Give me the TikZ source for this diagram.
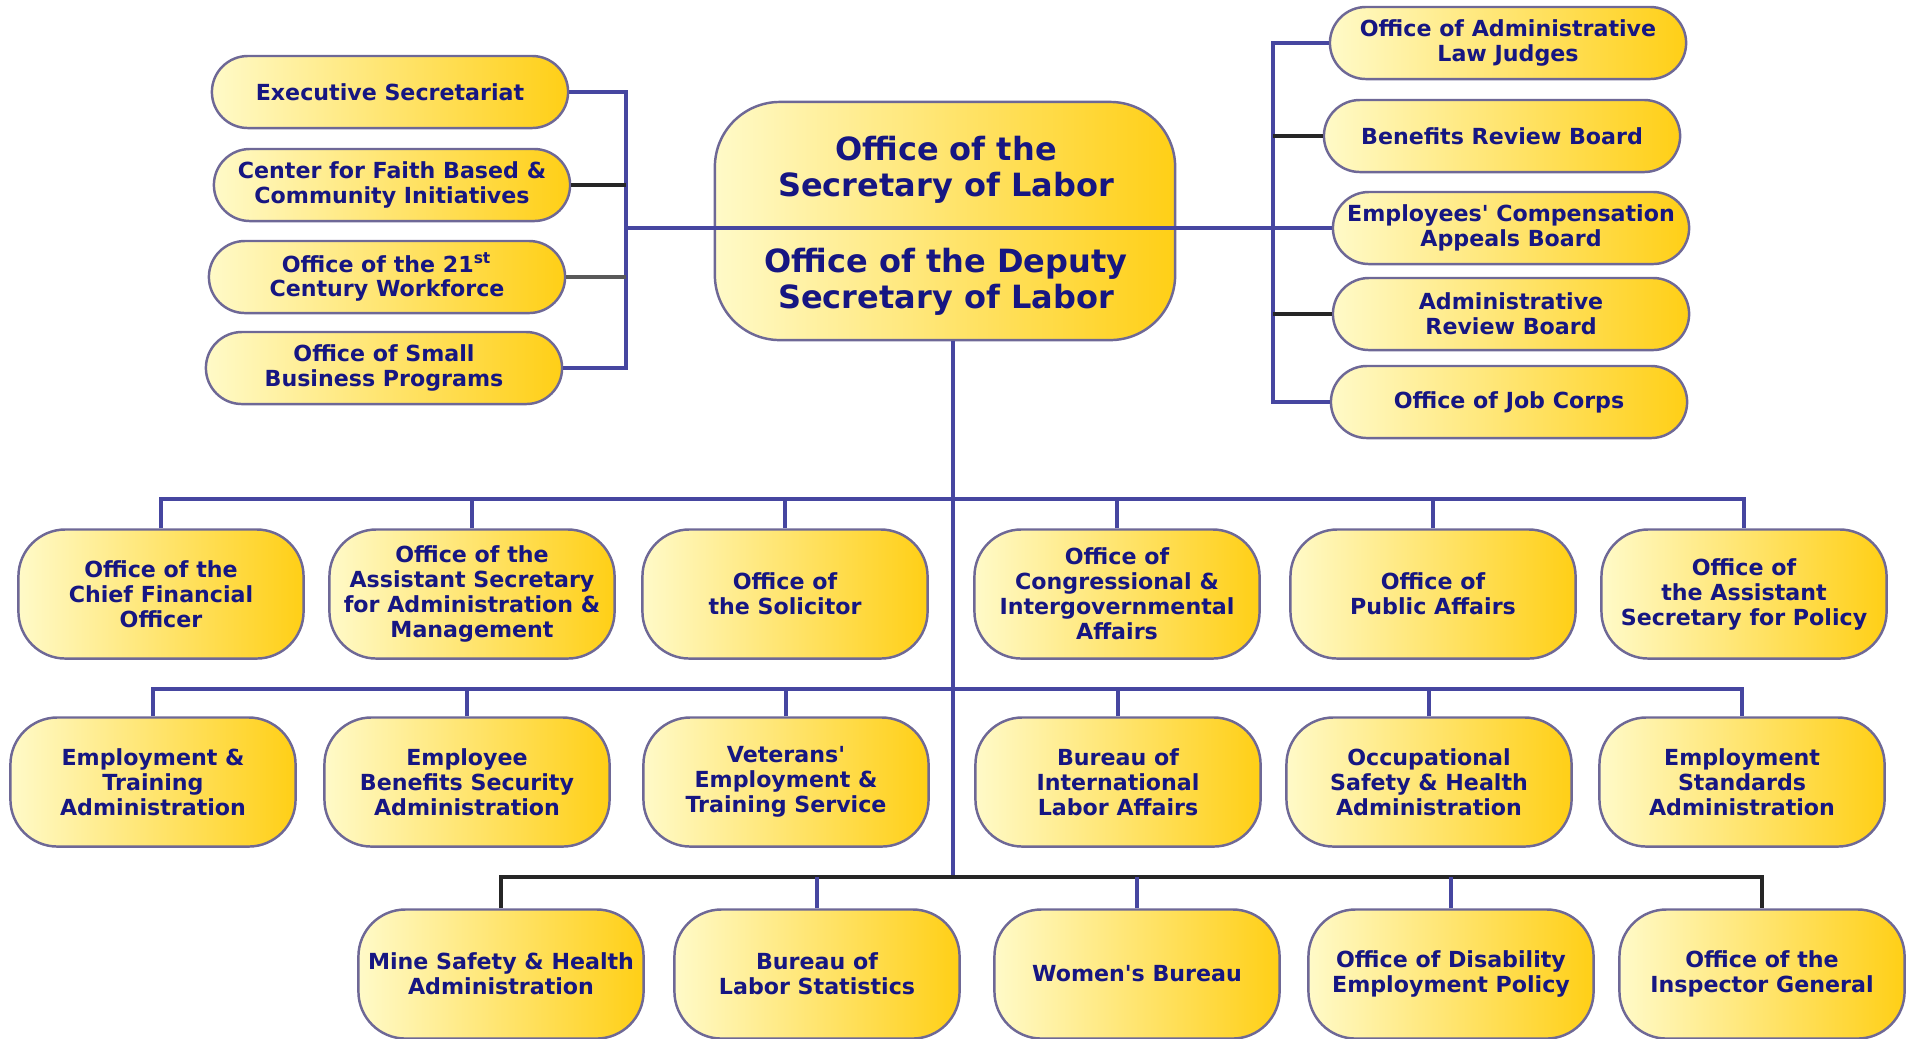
\documentclass[tikz,border=0pt]{standalone}
\usepackage{fontspec}
\setsansfont{DejaVu Sans}
\usetikzlibrary{calc}

\definecolor{dolnavy}{RGB}{22,22,130}
\definecolor{dolline}{RGB}{70,70,160}
\definecolor{doledge}{RGB}{110,104,150}
\definecolor{dolpale}{RGB}{255,250,200}
\definecolor{dolgold}{RGB}{255,207,22}

\begin{document}
\begin{tikzpicture}[x=0.01cm,y=-0.01cm,
    box/.style={draw=doledge,line width=0.7pt,left color=dolpale,right color=dolgold,
        text=dolnavy,align=center,inner sep=0pt,
        font=\sffamily\bfseries\fontsize{6.3}{7.1}\selectfont},
    oval/.style={box,rounded corners=0.36cm,minimum width=3.56cm,minimum height=0.72cm},
    unit/.style={box,rounded corners=0.47cm,minimum width=2.85cm,minimum height=1.29cm},
    captext/.style={text=dolnavy,align=center,inner sep=0pt,
        font=\sffamily\bfseries\fontsize{9.1}{10.3}\selectfont},
    link/.style={draw=dolline,line width=1pt},
    blink/.style={draw=black!85,line width=1pt}]
    \useasboundingbox (0,0) rectangle (1910,1038);

    % secretary
    \node[box,rounded corners=0.65cm,minimum width=4.6cm,minimum height=2.38cm] (sec) at (945,221) {};
    \node[captext] (sectop) at (946,170) {Office of the\\Secretary of Labor};
    \node[captext] (secdep) at (946,282) {Office of the Deputy\\Secretary of Labor};

    % staff offices
    \node[oval] (exsec) at (390,92) {Executive Secretariat};
    \node[oval] (faith) at (392,185) {Center for Faith Based \&\\Community Initiatives};
    \node[oval] (work21) at (387,277) {Office of the 21\textsuperscript{st}\\Century Workforce};
    \node[oval] (smbus) at (384,368) {Office of Small\\Business Programs};

    \node[oval] (alj) at (1508,43) {Office of Administrative\\Law Judges};
    \node[oval] (brb) at (1502,136) {Benefits Review Board};
    \node[oval] (ecab) at (1511,228) {Employees\textquotesingle\ Compensation\\Appeals Board};
    \node[oval] (arb) at (1511,314) {Administrative\\Review Board};
    \node[oval] (jobc) at (1509,402) {Office of Job Corps};

    \coordinate (lbar) at (626,228);
    \coordinate (rbar) at (1273,228);
    \draw[link] (exsec.east) -| (smbus.east -| lbar) -- (smbus.east);
    \draw[blink] (faith.east) -- (faith.east -| lbar);
    \draw[draw=black!65,line width=1pt] (work21.east) -- (work21.east -| lbar);
    \draw[link] (alj.west) -| (jobc.west -| rbar) -- (jobc.west);
    \draw[blink] (brb.west) -- (brb.west -| rbar);
    \draw[blink] (arb.west) -- (arb.west -| rbar);
    \draw[link] (lbar) -- (rbar) -- (ecab.west);

    % first row
    \node[unit] (cfo) at (161,594) {Office of the\\Chief Financial\\Officer};
    \node[unit] (oasam) at (472,594) {Office of the\\Assistant Secretary\\for Administration \&\\Management};
    \node[unit] (sol) at (785,594) {Office of\\the Solicitor};
    \node[unit] (ocia) at (1117,594) {Office of\\Congressional \&\\Intergovernmental\\Affairs};
    \node[unit] (opa) at (1433,594) {Office of\\Public Affairs};
    \node[unit] (oasp) at (1744,594) {Office of\\the Assistant\\Secretary for Policy};

    % second row
    \node[unit] (eta) at (153,782) {Employment \&\\Training\\Administration};
    \node[unit] (ebsa) at (467,782) {Employee\\Benefits Security\\Administration};
    \node[unit] (vets) at (786,782) {Veterans\textquotesingle\\Employment \&\\Training Service};
    \node[unit] (ilab) at (1118,782) {Bureau of\\International\\Labor Affairs};
    \node[unit] (osha) at (1429,782) {Occupational\\Safety \& Health\\Administration};
    \node[unit] (esa) at (1742,782) {Employment\\Standards\\Administration};

    % third row
    \node[unit] (msha) at (501,974) {Mine Safety \& Health\\Administration};
    \node[unit] (bls) at (817,974) {Bureau of\\Labor Statistics};
    \node[unit] (wb) at (1137,974) {Women\textquotesingle s Bureau};
    \node[unit] (odep) at (1451,974) {Office of Disability\\Employment Policy};
    \node[unit] (oig) at (1762,974) {Office of the\\Inspector General};

    \coordinate (bus1) at (953,499);
    \coordinate (bus2) at (953,689);
    \coordinate (bus3) at (953,877);
    \draw[link] (sec.south -| bus3) -- (bus3);
    \draw[link] (cfo.north) |- (bus1) -| (oasp.north);
    \foreach \n in {oasam,sol,ocia,opa}
        \draw[link] (\n.north) -- (\n.north |- bus1);
    \draw[link] (eta.north) |- (bus2) -| (esa.north);
    \foreach \n in {ebsa,vets,ilab,osha}
        \draw[link] (\n.north) -- (\n.north |- bus2);
    \draw[blink] (msha.north) |- (bus3) -| (oig.north);
    \foreach \n in {bls,wb,odep}
        \draw[link] (\n.north) -- (\n.north |- bus3);
\end{tikzpicture}
\end{document}
